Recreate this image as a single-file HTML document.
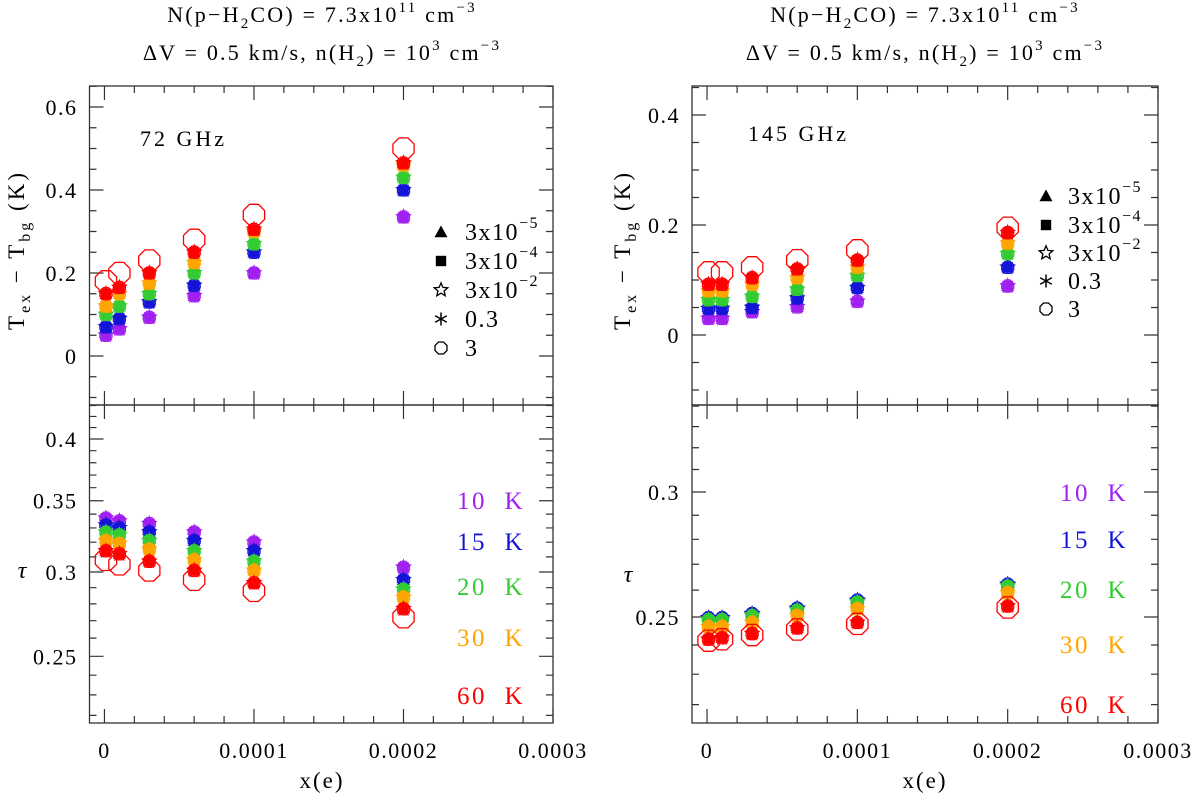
<!DOCTYPE html>
<html><head><meta charset="utf-8"><style>
html,body{margin:0;padding:0;background:#fff}
svg{display:block}
text{font-family:"Liberation Serif","DejaVu Serif",serif;fill:#000}
</style></head><body>
<svg id="fig" width="1200" height="795" viewBox="0 0 1200 795" xmlns="http://www.w3.org/2000/svg">
<g>
<text x="322" y="22" font-size="22" text-anchor="middle" letter-spacing="2.2">N(p−H<tspan font-size="15" dy="6">2</tspan><tspan dy="-6">CO) = 7.3x10</tspan><tspan font-size="15" dy="-10">11</tspan><tspan dy="10"> cm</tspan><tspan font-size="15" dy="-10">−3</tspan></text>
<text x="322" y="60" font-size="22" text-anchor="middle" letter-spacing="2.2">ΔV = 0.5 km/s, n(H<tspan font-size="15" dy="6">2</tspan><tspan dy="-6">) = 10</tspan><tspan font-size="15" dy="-10">3</tspan><tspan dy="10"> cm</tspan><tspan font-size="15" dy="-10">−3</tspan></text>
</g>
<g>
<text x="925" y="22" font-size="22" text-anchor="middle" letter-spacing="2.2">N(p−H<tspan font-size="15" dy="6">2</tspan><tspan dy="-6">CO) = 7.3x10</tspan><tspan font-size="15" dy="-10">11</tspan><tspan dy="10"> cm</tspan><tspan font-size="15" dy="-10">−3</tspan></text>
<text x="925" y="60" font-size="22" text-anchor="middle" letter-spacing="2.2">ΔV = 0.5 km/s, n(H<tspan font-size="15" dy="6">2</tspan><tspan dy="-6">) = 10</tspan><tspan font-size="15" dy="-10">3</tspan><tspan dy="10"> cm</tspan><tspan font-size="15" dy="-10">−3</tspan></text>
</g>
<text transform="translate(24,250) rotate(-90)" font-size="23" text-anchor="middle" letter-spacing="3">T<tspan font-size="16" dy="6">ex</tspan><tspan dy="-6"> − T</tspan><tspan font-size="16" dy="6">bg</tspan><tspan dy="-6"> (K)</tspan></text>
<text transform="translate(630,250) rotate(-90)" font-size="23" text-anchor="middle" letter-spacing="3">T<tspan font-size="16" dy="6">ex</tspan><tspan dy="-6"> − T</tspan><tspan font-size="16" dy="6">bg</tspan><tspan dy="-6"> (K)</tspan></text>
<text x="22" y="578" font-size="24" font-style="italic" text-anchor="middle">τ</text>
<text x="628" y="582" font-size="24" font-style="italic" text-anchor="middle">τ</text>
<text x="322" y="788" font-size="23" text-anchor="middle" letter-spacing="2">x(e)</text>
<text x="925" y="788" font-size="23" text-anchor="middle" letter-spacing="2">x(e)</text>
<text x="140" y="146" font-size="22" letter-spacing="3">72 GHz</text>
<text x="748" y="141" font-size="22" letter-spacing="3">145 GHz</text>
<g id="plots"></g>
</svg>
<script>
const xe = [1e-6, 1e-5, 3e-5, 6e-5, 1e-4, 2e-4];
const tempLabels = ['10 K', '15 K', '20 K', '30 K', '60 K'];
const densLabels = ['3x10', '3x10', '3x10', '0.3', '3'];
const densExp = ['−5', '−4', '−2', '', ''];
const xTicks = [0, 0.0001, 0.0002, 0.0003];
const xTickLabels = ['0', '0.0001', '0.0002', '0.0003'];

// 72 GHz Tex - Tbg (K)
const tex72_10 = [0.05, 0.065, 0.093, 0.145, 0.20, 0.335];
const tex72_15 = [0.07, 0.09, 0.13, 0.17, 0.25, 0.40];
const tex72_20 = [0.10, 0.12, 0.15, 0.20, 0.27, 0.43];
const tex72_30 = [0.12, 0.15, 0.175, 0.225, 0.30, 0.46];
const tex72_60 = [0.15, 0.165, 0.20, 0.25, 0.305, 0.465];
const tex72_60c = [0.18, 0.20, 0.23, 0.28, 0.34, 0.50];
// 72 GHz tau
const tau72_10 = [0.337, 0.335, 0.333, 0.327, 0.320, 0.303];
const tau72_15 = [0.332, 0.330, 0.327, 0.321, 0.314, 0.295];
const tau72_20 = [0.327, 0.325, 0.321, 0.314, 0.307, 0.289];
const tau72_30 = [0.321, 0.319, 0.315, 0.308, 0.301, 0.284];
const tau72_60 = [0.314, 0.312, 0.307, 0.301, 0.293, 0.277];
const tau72_60c = [0.308, 0.305, 0.301, 0.295, 0.288, 0.272];
// 145 GHz Tex - Tbg
const tex145_10 = [0.03, 0.03, 0.042, 0.051, 0.061, 0.089];
const tex145_15 = [0.048, 0.048, 0.05, 0.067, 0.086, 0.123];
const tex145_20 = [0.064, 0.064, 0.07, 0.083, 0.108, 0.148];
const tex145_30 = [0.08, 0.08, 0.092, 0.104, 0.123, 0.167];
const tex145_60 = [0.092, 0.092, 0.104, 0.12, 0.136, 0.186];
const tex145_60c = [0.114, 0.114, 0.123, 0.136, 0.154, 0.195];
// 145 GHz tau
const tau145_10 = [0.2495, 0.2495, 0.251, 0.253, 0.256, 0.262];
const tau145_15 = [0.2497, 0.2497, 0.2512, 0.2532, 0.2562, 0.2622];
const tau145_20 = [0.249, 0.249, 0.2505, 0.2525, 0.2555, 0.2615];
const tau145_30 = [0.2465, 0.2465, 0.248, 0.2505, 0.253, 0.259];
const tau145_60 = [0.242, 0.2425, 0.244, 0.246, 0.248, 0.254];
const tau145_60c = [0.2415, 0.242, 0.2435, 0.2455, 0.2475, 0.2535];

const colors = ['#a020f0', '#1515d8', '#33cc33', '#ffa500', '#ff0000'];
const NS = 'http://www.w3.org/2000/svg';
const root = document.getElementById('plots');
function mk(tag, attrs, parent) {
  const e = document.createElementNS(NS, tag);
  for (const k in attrs) e.setAttribute(k, attrs[k]);
  (parent || root).appendChild(e);
  return e;
}
const L = {x0: 89.5, x1: 553}, R = {x0: 692, x1: 1158};
const xmin = -1e-5, xmax = 3e-4;
function xs(p, v) { return p.x0 + (v - xmin) / (xmax - xmin) * (p.x1 - p.x0); }
const TOP = 86, MID = 405, BOT = 723;

function linY(v0, p0, v1, p1) { return v => p0 + (v - v0) / (v1 - v0) * (p1 - p0); }
function logY(v0, p0, v1, p1) { return v => p0 + (Math.log10(v) - Math.log10(v0)) / (Math.log10(v1) - Math.log10(v0)) * (p1 - p0); }

const panels = [
  {p: L, yt: MID, yb: TOP, ys: linY(0, 356, 0.6, 107), lo: -0.15, hi: 0.7, step: 0.05, major: [0, 0.2, 0.4, 0.6], labs: ['0', '0.2', '0.4', '0.6'], log: false,
   series: [tex72_10, tex72_15, tex72_20, tex72_30, tex72_60], big: tex72_60c, name: '72ghz-tex'},
  {p: L, yt: BOT, yb: MID, ys: logY(0.3, 572, 0.4, 439), lo: 0.2, hi: 0.45, step: 0.01, major: [0.25, 0.3, 0.35, 0.4], labs: ['0.25', '0.3', '0.35', '0.4'], log: true,
   series: [tau72_10, tau72_15, tau72_20, tau72_30, tau72_60], big: tau72_60c, name: '72ghz-tau'},
  {p: R, yt: MID, yb: TOP, ys: linY(0, 335, 0.4, 115), lo: -0.15, hi: 0.5, step: 0.05, major: [0, 0.2, 0.4], labs: ['0', '0.2', '0.4'], log: false,
   series: [tex145_10, tex145_15, tex145_20, tex145_30, tex145_60], big: tex145_60c, name: '145ghz-tex'},
  {p: R, yt: BOT, yb: MID, ys: logY(0.25, 617, 0.3, 492), lo: 0.2, hi: 0.35, step: 0.01, major: [0.25, 0.3], labs: ['0.25', '0.3'], log: true,
   series: [tau145_10, tau145_15, tau145_20, tau145_30, tau145_60], big: tau145_60c, name: '145ghz-tau'}
];

function star(cx, cy, r) {
  let pts = [];
  for (let i = 0; i < 10; i++) {
    const a = -Math.PI / 2 + i * Math.PI / 5, rr = i % 2 ? r * 0.45 : r;
    pts.push((cx + rr * Math.cos(a)).toFixed(1) + ',' + (cy + rr * Math.sin(a)).toFixed(1));
  }
  return pts.join(' ');
}
function octa(cx, cy, r) {
  let pts = [];
  for (let i = 0; i < 8; i++) {
    const a = Math.PI / 8 + i * Math.PI / 4;
    pts.push((cx + r * Math.cos(a)).toFixed(1) + ',' + (cy + r * Math.sin(a)).toFixed(1));
  }
  return pts.join(' ');
}
function marker(g, shape, cx, cy, col, r) {
  let e;
  if (shape === 0) e = mk('polygon', {points: `${cx},${cy - r} ${cx - r},${cy + r * 0.8} ${cx + r},${cy + r * 0.8}`, fill: col}, g);
  else if (shape === 1) e = mk('rect', {x: cx - r * 0.8, y: cy - r * 0.8, width: r * 1.6, height: r * 1.6, fill: col}, g);
  else if (shape === 2) e = mk('polygon', {points: star(cx, cy, r * 1.1), fill: 'none', stroke: col, 'stroke-width': 1.3}, g);
  else if (shape === 3) {
    e = mk('path', {d: `M${cx},${cy - r}V${cy + r}M${cx - r * 0.9},${cy - r * 0.5}L${cx + r * 0.9},${cy + r * 0.5}M${cx - r * 0.9},${cy + r * 0.5}L${cx + r * 0.9},${cy - r * 0.5}`, stroke: col, 'stroke-width': 1.5, fill: 'none'}, g);
  } else e = mk('polygon', {points: octa(cx, cy, r), fill: 'none', stroke: col, 'stroke-width': 1.3}, g);
  
  
  return e;
}

panels.forEach(P => {
  const g = mk('g', {});
  
  
  const p = P.p, top = P.yb, bot = P.yt;
  const fr = mk('rect', {x: p.x0, y: top, width: p.x1 - p.x0, height: bot - top, fill: 'none', stroke: '#333', 'stroke-width': 1.3}, g);
  
  
  let d = '';
  for (let k = 0; k <= 15; k++) {
    const v = k * 2e-5, x = xs(p, v), len = (k % 5 === 0) ? 14 : 7;
    d += `M${x},${bot}v${-len}M${x},${top}v${len}`;
  }
  const n0 = Math.round(P.lo / P.step), n1 = Math.round(P.hi / P.step);
  for (let k = n0; k <= n1; k++) {
    const v = +(k * P.step).toFixed(4);
    if (v <= 0 && P.log) continue;
    const y = P.ys(v);
    if (y < top - 0.5 || y > bot + 0.5) continue;
    const isMaj = P.major.some(m => Math.abs(m - v) < 1e-6);
    const len = isMaj ? 14 : 7;
    d += `M${p.x0},${y}h${len}M${p.x1},${y}h${-len}`;
  }
  const tk = mk('path', {d: d, stroke: '#333', 'stroke-width': 1.2, fill: 'none'}, g);
  
  
  P.major.forEach((v, i) => {
    const t = mk('text', {x: p.x0 - 12, y: P.ys(v) + 8, 'font-size': 22, 'text-anchor': 'end', 'letter-spacing': 1.5}, g);
    t.textContent = P.labs[i];
    
    
  });
  if (P.log) {
    xTicks.forEach((v, i) => {
      const t = mk('text', {x: xs(p, v), y: 758, 'font-size': 22, 'text-anchor': 'middle', 'letter-spacing': 1.5}, g);
      t.textContent = xTickLabels[i];
      
      
    });
  }
  P.series.forEach((arr, ti) => {
    const sg = mk('g', {}, g);
    
    
    arr.forEach((v, i) => {
      const cx = xs(p, xe[i]), cy = P.ys(v);
      for (let s = 0; s < 5; s++) marker(sg, s, cx, cy, colors[ti], 6.5);
    });
  });
  P.big.forEach((v, i) => {
    const e = marker(g, 4, xs(p, xe[i]), P.ys(v), colors[4], 11.5);
    
  });
});

function densLegend(mx, tx, ys) {
  ys.forEach((y, i) => {
    marker(root, i, mx, y - 8, '#000', 6.5);
    const t = mk('text', {x: tx, y: y, 'font-size': 24, 'letter-spacing': 1.5});
    
    
    t.textContent = densLabels[i];
    if (densExp[i]) {
      const s = mk('tspan', {dy: -12, 'font-size': 16}, t);
      s.textContent = densExp[i];
    }
  });
}
densLegend(441, 465, [240, 269, 298, 327, 356]);
densLegend(1046, 1068, [204, 233, 261, 289, 317]);
function tempLegend(x, ys) {
  ys.forEach((y, i) => {
    const t = mk('text', {x: x, y: y, 'font-size': 25, fill: colors[i], style: 'fill:' + colors[i], 'letter-spacing': 2.5});
    
    
    t.textContent = tempLabels[i].replace(' ', '\u00a0\u00a0');
  });
}
tempLegend(457, [509, 550, 595, 646, 704]);
tempLegend(1060, [501, 548, 598, 653, 713]);
</script>
</body></html>
